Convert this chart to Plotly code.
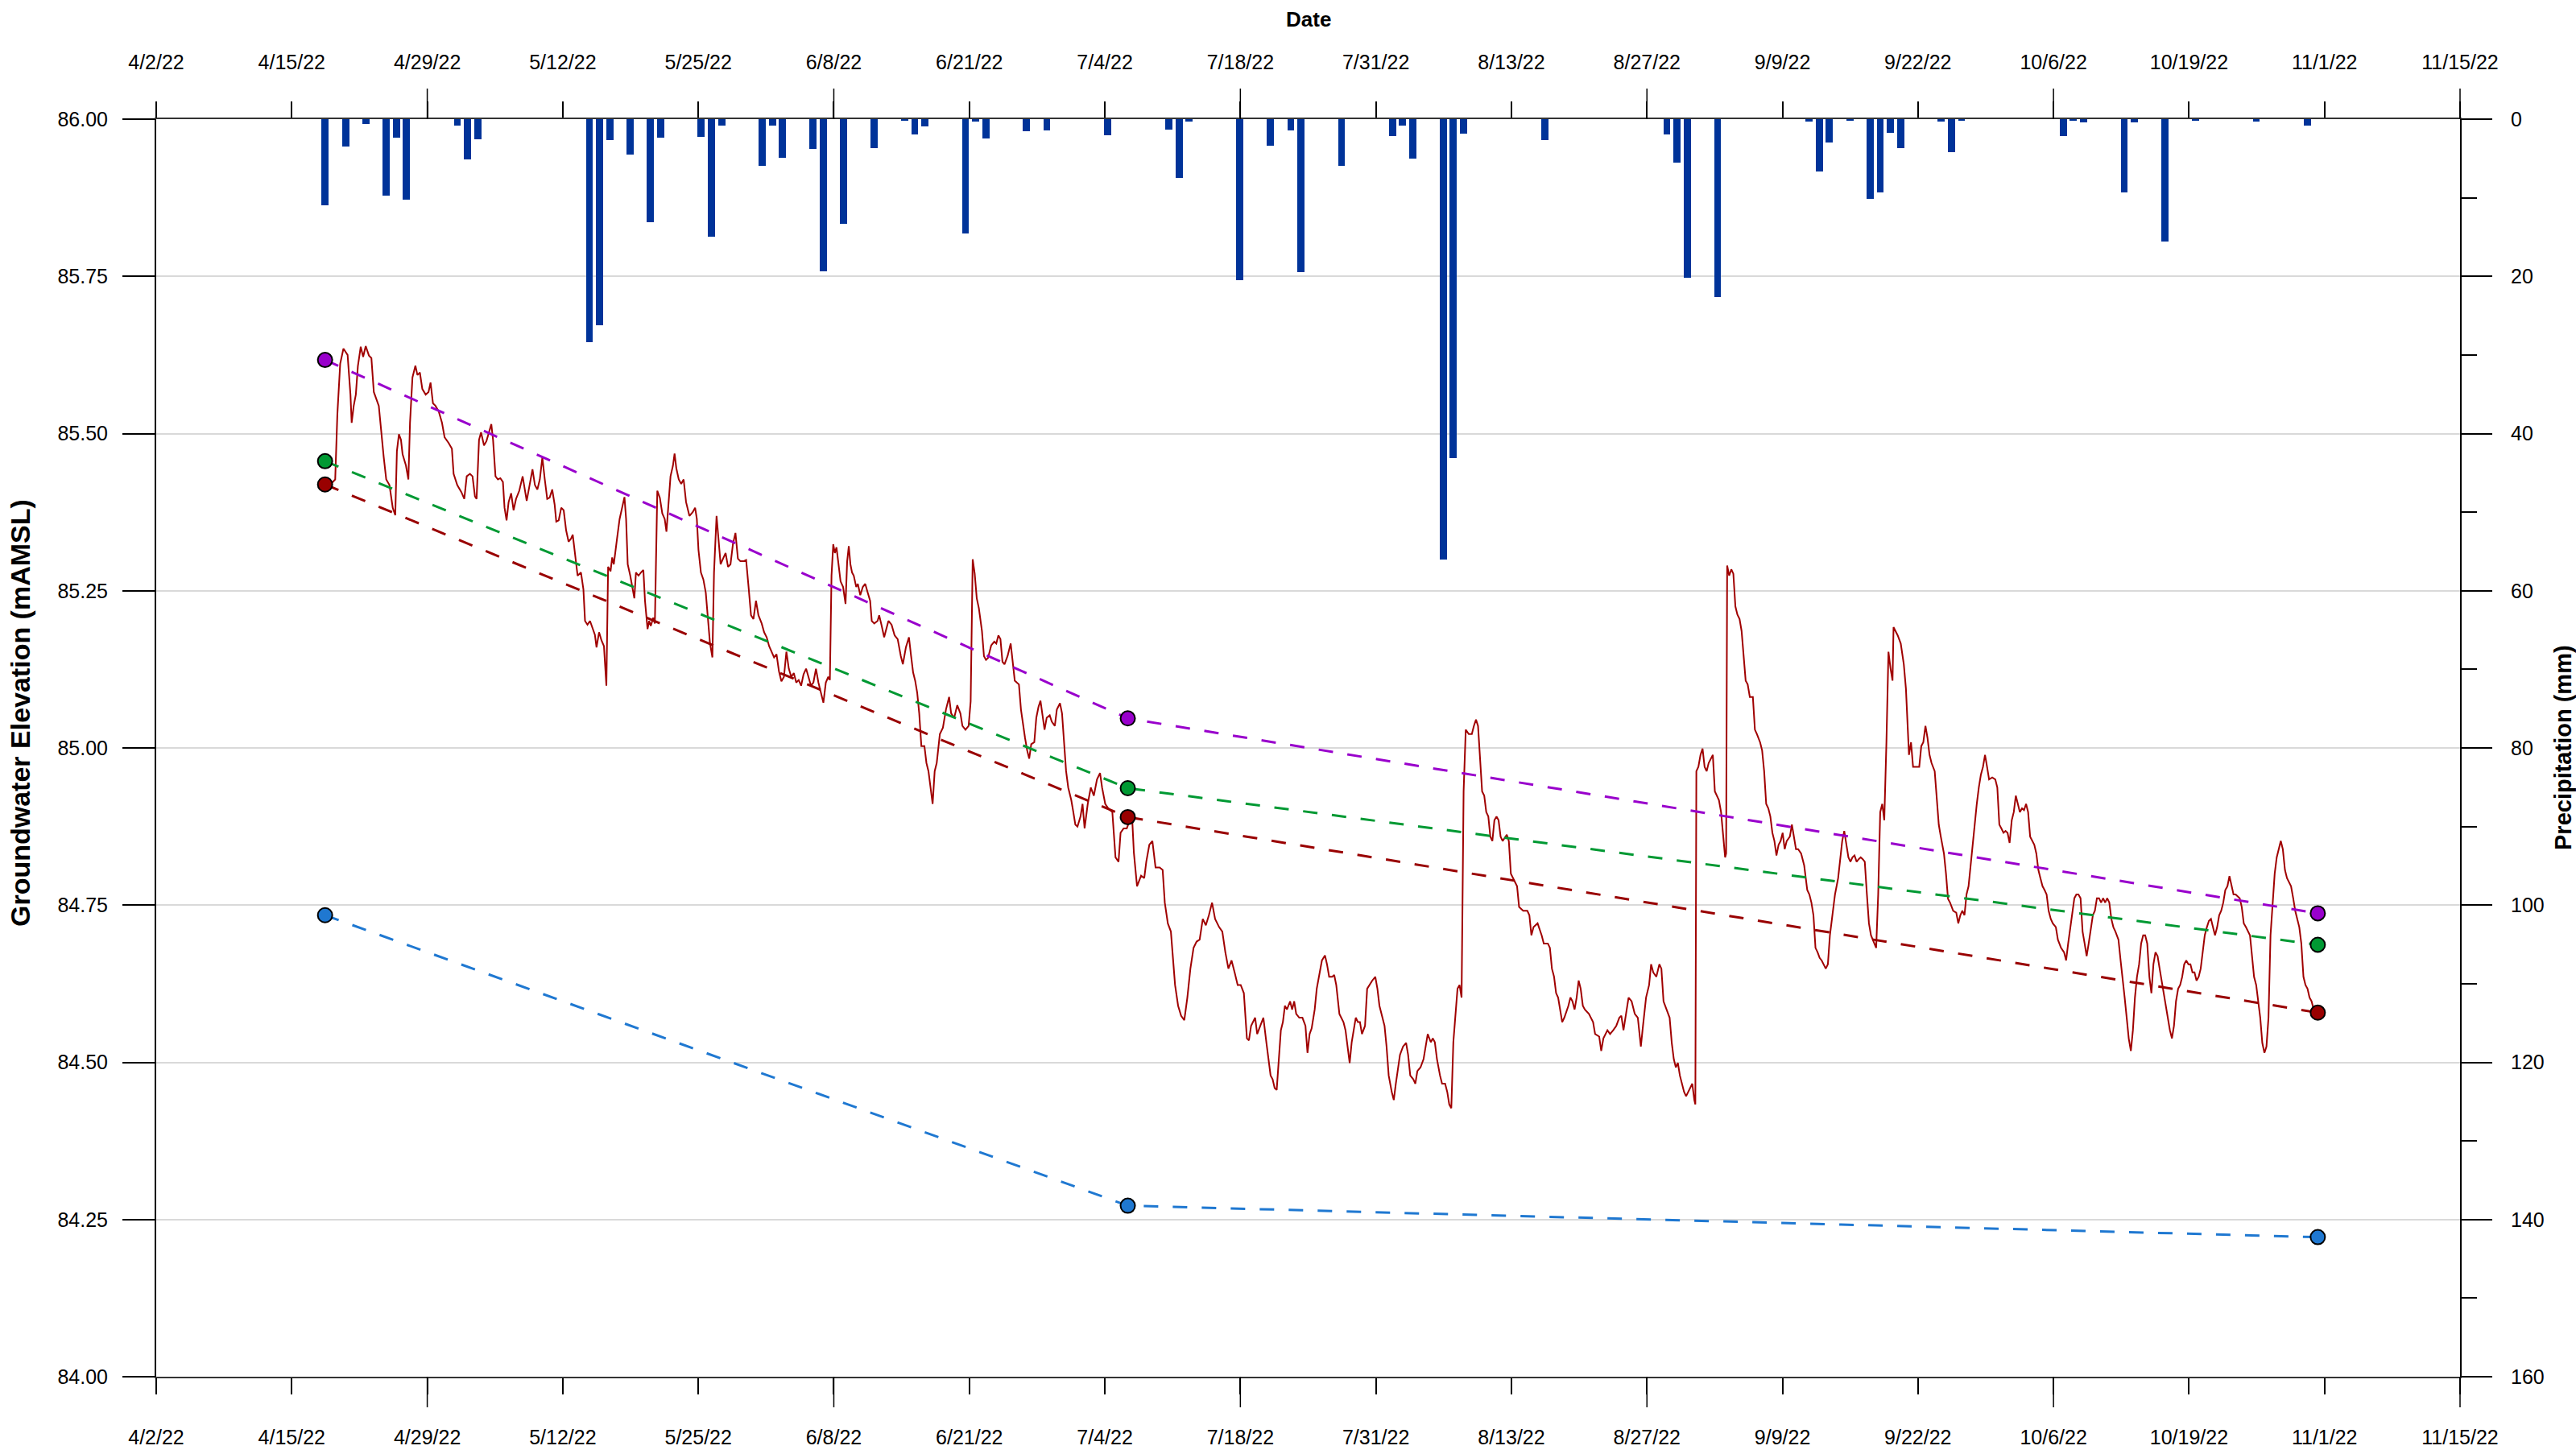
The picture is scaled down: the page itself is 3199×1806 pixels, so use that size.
import pandas as pd
import plotly.graph_objects as go

# ---------------- data ----------------
AXIS_START = pd.Timestamp("2022-04-02")
TICK_STEP_DAYS = 40 / 3
tick_labels = ["4/2/22", "4/15/22", "4/29/22", "5/12/22", "5/25/22", "6/8/22", "6/21/22",
               "7/4/22", "7/18/22", "7/31/22", "8/13/22", "8/27/22", "9/9/22", "9/22/22",
               "10/6/22", "10/19/22", "11/1/22", "11/15/22"]

precip_dates = ["2022-04-18", "2022-04-20", "2022-04-22", "2022-04-24", "2022-04-25", "2022-04-26",
                "2022-05-01", "2022-05-02", "2022-05-03", "2022-05-14", "2022-05-15", "2022-05-16",
                "2022-05-18", "2022-05-20", "2022-05-21", "2022-05-25", "2022-05-26", "2022-05-27",
                "2022-05-31", "2022-06-01", "2022-06-02", "2022-06-05", "2022-06-06", "2022-06-08",
                "2022-06-11", "2022-06-14", "2022-06-15", "2022-06-16", "2022-06-20", "2022-06-21",
                "2022-06-22", "2022-06-26", "2022-06-28", "2022-07-04", "2022-07-10", "2022-07-11",
                "2022-07-12", "2022-07-17", "2022-07-20", "2022-07-22", "2022-07-23", "2022-07-27",
                "2022-08-01", "2022-08-02", "2022-08-03", "2022-08-06", "2022-08-07", "2022-08-08",
                "2022-08-16", "2022-08-28", "2022-08-29", "2022-08-30", "2022-09-02", "2022-09-11",
                "2022-09-12", "2022-09-13", "2022-09-15", "2022-09-17", "2022-09-18", "2022-09-19",
                "2022-09-20", "2022-09-24", "2022-09-25", "2022-09-26", "2022-10-06", "2022-10-07",
                "2022-10-08", "2022-10-12", "2022-10-13", "2022-10-16", "2022-10-19", "2022-10-25",
                "2022-10-30"]
precip_mm = [11.0, 3.45, 0.64, 9.73, 2.33, 10.2,
             0.83, 5.1, 2.53, 28.4, 26.2, 2.62,
             4.54, 13.1, 2.33, 2.25, 15.0, 0.79,
             5.94, 0.8, 4.92, 3.8, 19.4, 13.3,
             3.7, 0.21, 1.9, 0.9, 14.5, 0.32,
             2.5, 1.52, 1.43, 2.0, 1.34, 7.52,
             0.32, 20.5, 3.34, 1.43, 19.5, 5.94,
             2.1, 0.8, 5.03, 56.0, 43.1, 1.82,
             2.7, 1.92, 5.52, 20.2, 22.6, 0.33,
             6.7, 3.02, 0.24, 10.1, 9.35, 1.71,
             3.72, 0.33, 4.15, 0.23, 2.12, 0.23,
             0.44, 9.35, 0.44, 15.6, 0.25, 0.35,
             0.82]

# logger record: (days since 2022-04-02, groundwater elevation mAMSL)
gw_readings = [
    (16.70, 85.419), (17.09, 85.418), (17.61, 85.427), (17.82, 85.530), (18.10, 85.611), (18.42, 85.635),
    (18.83, 85.625), (19.11, 85.562), (19.23, 85.517), (19.43, 85.544), (19.64, 85.562), (19.84, 85.607),
    (20.12, 85.638), (20.36, 85.622), (20.61, 85.639), (20.93, 85.624), (21.17, 85.620), (21.41, 85.566),
    (21.90, 85.544), (22.14, 85.499), (22.38, 85.463), (22.63, 85.427), (22.95, 85.418), (23.27, 85.382),
    (23.52, 85.370), (23.68, 85.472), (23.88, 85.499), (24.08, 85.490), (24.24, 85.467), (24.57, 85.449),
    (24.81, 85.427), (24.97, 85.517), (25.21, 85.589), (25.50, 85.608), (25.70, 85.593), (25.94, 85.597),
    (26.18, 85.571), (26.51, 85.562), (26.79, 85.566), (26.99, 85.581), (27.23, 85.548), (27.48, 85.544),
    (27.80, 85.535), (28.12, 85.517), (28.37, 85.494), (28.77, 85.485), (29.09, 85.476), (29.26, 85.436),
    (29.62, 85.418), (30.02, 85.407), (30.31, 85.396), (30.55, 85.432), (30.87, 85.436), (31.12, 85.432),
    (31.36, 85.400), (31.52, 85.396), (31.76, 85.490), (31.96, 85.502), (32.25, 85.481), (32.49, 85.488),
    (32.73, 85.503), (32.97, 85.515), (33.14, 85.490), (33.38, 85.432), (33.62, 85.427), (33.86, 85.429),
    (34.11, 85.423), (34.27, 85.382), (34.47, 85.362), (34.67, 85.391), (34.92, 85.405), (35.16, 85.378),
    (35.40, 85.396), (35.72, 85.409), (36.05, 85.432), (36.29, 85.409), (36.45, 85.393), (36.69, 85.414),
    (37.02, 85.443), (37.26, 85.418), (37.50, 85.411), (37.74, 85.427), (37.99, 85.462), (38.23, 85.427),
    (38.47, 85.396), (38.71, 85.398), (38.96, 85.411), (39.20, 85.387), (39.36, 85.360), (39.60, 85.362),
    (39.85, 85.382), (40.09, 85.378), (40.33, 85.346), (40.57, 85.328), (40.82, 85.333), (40.98, 85.339),
    (41.22, 85.310), (41.46, 85.274), (41.79, 85.279), (42.03, 85.252), (42.19, 85.202), (42.43, 85.196),
    (42.68, 85.202), (42.84, 85.194), (43.16, 85.180), (43.32, 85.160), (43.57, 85.184), (43.81, 85.171),
    (44.05, 85.162), (44.29, 85.099), (44.46, 85.288), (44.70, 85.281), (44.86, 85.303), (45.02, 85.292),
    (45.18, 85.310), (45.34, 85.333), (45.59, 85.364), (45.83, 85.382), (46.07, 85.399), (46.23, 85.364),
    (46.39, 85.292), (46.64, 85.274), (46.88, 85.252), (47.04, 85.238), (47.20, 85.279), (47.45, 85.274),
    (47.69, 85.279), (47.93, 85.283), (48.09, 85.234), (48.34, 85.189), (48.50, 85.202), (48.66, 85.194),
    (48.90, 85.207), (49.06, 85.198), (49.30, 85.409), (49.55, 85.398), (49.79, 85.373), (50.03, 85.364),
    (50.20, 85.344), (50.44, 85.400), (50.60, 85.432), (50.84, 85.449), (51.00, 85.468), (51.17, 85.445),
    (51.41, 85.427), (51.65, 85.420), (51.89, 85.427), (52.13, 85.391), (52.46, 85.369), (52.78, 85.375),
    (53.02, 85.382), (53.19, 85.364), (53.35, 85.315), (53.59, 85.279), (53.83, 85.268), (54.07, 85.247),
    (54.32, 85.202), (54.48, 85.167), (54.72, 85.144), (54.88, 85.279), (55.13, 85.369), (55.29, 85.337),
    (55.53, 85.292), (55.77, 85.301), (56.02, 85.310), (56.26, 85.288), (56.50, 85.292), (56.74, 85.324),
    (56.99, 85.342), (57.23, 85.301), (57.47, 85.297), (57.79, 85.297), (58.04, 85.299), (58.28, 85.256),
    (58.52, 85.211), (58.76, 85.205), (59.01, 85.234), (59.25, 85.211), (59.57, 85.198), (59.81, 85.184),
    (60.06, 85.176), (60.30, 85.162), (60.54, 85.153), (60.79, 85.144), (61.03, 85.149), (61.27, 85.122),
    (61.51, 85.106), (61.76, 85.113), (62.00, 85.153), (62.24, 85.126), (62.48, 85.113), (62.73, 85.119),
    (62.97, 85.104), (63.21, 85.108), (63.45, 85.099), (63.69, 85.117), (63.94, 85.126), (64.18, 85.113),
    (64.42, 85.099), (64.66, 85.104), (64.91, 85.126), (65.15, 85.104), (65.39, 85.090), (65.64, 85.072),
    (65.88, 85.104), (66.12, 85.113), (66.28, 85.108), (66.44, 85.274), (66.61, 85.324), (66.77, 85.310),
    (66.93, 85.319), (67.09, 85.297), (67.33, 85.265), (67.58, 85.256), (67.82, 85.229), (67.98, 85.297),
    (68.14, 85.321), (68.30, 85.292), (68.46, 85.279), (68.63, 85.274), (68.87, 85.256), (69.03, 85.261),
    (69.27, 85.243), (69.52, 85.256), (69.76, 85.261), (70.00, 85.247), (70.24, 85.234), (70.40, 85.202),
    (70.65, 85.198), (70.97, 85.202), (71.13, 85.211), (71.38, 85.194), (71.62, 85.176),
    (72.04, 85.202), (72.35, 85.196), (72.65, 85.179), (72.95, 85.173), (73.26, 85.146), (73.46, 85.133),
    (73.76, 85.160), (74.06, 85.176), (74.27, 85.146), (74.47, 85.120), (74.67, 85.107), (74.87, 85.088),
    (75.07, 85.055), (75.28, 85.003), (75.58, 85.003), (75.78, 84.976), (75.98, 84.963), (76.19, 84.937),
    (76.39, 84.911), (76.59, 84.963), (76.79, 84.976), (77.10, 85.022), (77.40, 85.032), (77.70, 85.061),
    (78.01, 85.081), (78.21, 85.055), (78.51, 85.048), (78.81, 85.068), (79.12, 85.055), (79.32, 85.035),
    (79.62, 85.029), (79.93, 85.035), (80.13, 85.074), (80.33, 85.300), (80.53, 85.277), (80.73, 85.238),
    (80.94, 85.222), (81.24, 85.186), (81.44, 85.146), (81.64, 85.140), (81.84, 85.143), (82.15, 85.163),
    (82.45, 85.169), (82.65, 85.166), (82.86, 85.179), (83.06, 85.173), (83.26, 85.137), (83.46, 85.133),
    (83.76, 85.146), (84.07, 85.166), (84.27, 85.140), (84.47, 85.107), (84.67, 85.104), (84.88, 85.101),
    (85.08, 85.061), (85.28, 85.035), (85.48, 85.016), (85.69, 84.996), (85.89, 84.983), (86.09, 85.006),
    (86.39, 85.009), (86.59, 85.048), (86.80, 85.065), (87.00, 85.075), (87.20, 85.055), (87.40, 85.029),
    (87.61, 85.048), (87.91, 85.052), (88.11, 85.042), (88.41, 85.035), (88.61, 85.061), (88.92, 85.071),
    (89.12, 85.055), (89.32, 85.003), (89.52, 84.963), (89.73, 84.937), (90.03, 84.917), (90.23, 84.898),
    (90.43, 84.878), (90.64, 84.875), (90.94, 84.891), (91.14, 84.911), (91.34, 84.872), (91.65, 84.911),
    (91.95, 84.937), (92.25, 84.924), (92.56, 84.950), (92.86, 84.960), (93.06, 84.937), (93.37, 84.911),
    (93.67, 84.904), (94.07, 84.898), (94.38, 84.826), (94.68, 84.819), (94.88, 84.865), (95.18, 84.872),
    (95.49, 84.872), (95.79, 84.885), (95.99, 84.898), (96.19, 84.833), (96.50, 84.780), (96.90, 84.797),
    (97.21, 84.793), (97.41, 84.819), (97.71, 84.846), (98.01, 84.852), (98.32, 84.810), (98.72, 84.810),
    (99.02, 84.806), (99.23, 84.754), (99.53, 84.721), (99.83, 84.708), (100.03, 84.669), (100.24, 84.623),
    (100.54, 84.590), (100.84, 84.574), (101.15, 84.567), (101.45, 84.603), (101.75, 84.649), (102.06, 84.682),
    (102.36, 84.692), (102.66, 84.695), (102.97, 84.728), (103.27, 84.718), (103.57, 84.734), (103.88, 84.754),
    (104.18, 84.728), (104.58, 84.715), (104.89, 84.708), (105.19, 84.675), (105.49, 84.649), (105.80, 84.662),
    (106.10, 84.643), (106.40, 84.623), (106.70, 84.623), (107.01, 84.610), (107.31, 84.538), (107.51, 84.535),
    (107.72, 84.558), (107.92, 84.564), (108.12, 84.571), (108.32, 84.545), (108.63, 84.558), (108.93, 84.571),
    (109.23, 84.531), (109.43, 84.505), (109.64, 84.479), (109.84, 84.473), (110.04, 84.459), (110.24, 84.456),
    (110.44, 84.505), (110.65, 84.551), (110.85, 84.564), (111.05, 84.590), (111.25, 84.584), (111.56, 84.597),
    (111.76, 84.584), (111.96, 84.597), (112.16, 84.577), (112.46, 84.571), (112.77, 84.571), (113.07, 84.558),
    (113.27, 84.515), (113.48, 84.545), (113.68, 84.554), (113.98, 84.584), (114.18, 84.617), (114.39, 84.636),
    (114.69, 84.662), (114.99, 84.670), (115.19, 84.656), (115.40, 84.636), (115.70, 84.636), (115.90, 84.639),
    (116.10, 84.623), (116.41, 84.577), (116.61, 84.571), (116.81, 84.564), (117.01, 84.551), (117.21, 84.525),
    (117.42, 84.499), (117.62, 84.532), (117.82, 84.551), (118.02, 84.571), (118.23, 84.564), (118.43, 84.564),
    (118.63, 84.545), (118.93, 84.558), (119.14, 84.617), (119.34, 84.623), (119.64, 84.630), (119.94, 84.636),
    (120.15, 84.617), (120.35, 84.590), (120.65, 84.571), (120.85, 84.558), (121.05, 84.525), (121.26, 84.479),
    (121.56, 84.453), (121.76, 84.440), (121.96, 84.466), (122.17, 84.492), (122.37, 84.512), (122.67, 84.525),
    (122.97, 84.531), (123.17, 84.512), (123.38, 84.479), (123.68, 84.473), (123.88, 84.466), (124.08, 84.486),
    (124.39, 84.492), (124.69, 84.505), (124.89, 84.525), (125.10, 84.545), (125.40, 84.532), (125.60, 84.538),
    (125.80, 84.532), (126.01, 84.505), (126.31, 84.479), (126.51, 84.466), (126.81, 84.466), (127.02, 84.453),
    (127.22, 84.433), (127.42, 84.427), (127.62, 84.532), (127.83, 84.577), (128.03, 84.617), (128.23, 84.623),
    (128.43, 84.603), (128.63, 84.931), (128.84, 85.029), (129.14, 85.022), (129.44, 85.022), (129.64, 85.035),
    (129.85, 85.045), (130.05, 85.035), (130.25, 84.976), (130.45, 84.931), (130.66, 84.924), (130.86, 84.898),
    (131.06, 84.891), (131.26, 84.859), (131.46, 84.852), (131.66, 84.885), (131.87, 84.891), (132.07, 84.885),
    (132.27, 84.859), (132.47, 84.852), (132.88, 84.862), (133.08, 84.852), (133.28, 84.800), (133.48, 84.793),
    (133.89, 84.780), (134.09, 84.747), (134.49, 84.741), (134.90, 84.741), (135.10, 84.734), (135.30, 84.702),
    (135.51, 84.715), (135.91, 84.721), (136.31, 84.702), (136.52, 84.689), (136.92, 84.689), (137.12, 84.682),
    (137.32, 84.649), (137.53, 84.636), (137.73, 84.610), (137.93, 84.603), (138.13, 84.584), (138.33, 84.564),
    (138.54, 84.571), (138.94, 84.590), (139.14, 84.603), (139.34, 84.597), (139.55, 84.584), (139.75, 84.603),
    (139.95, 84.630), (140.15, 84.617), (140.36, 84.590), (140.56, 84.584), (140.96, 84.577), (141.37, 84.564),
    (141.57, 84.545), (141.97, 84.541), (142.17, 84.518), (142.38, 84.538), (142.78, 84.551),
    (143.04, 84.545), (143.35, 84.551), (143.65, 84.558), (143.95, 84.571), (144.15, 84.574), (144.36, 84.551),
    (144.56, 84.571), (144.86, 84.603), (145.16, 84.597), (145.47, 84.577), (145.77, 84.571), (146.07, 84.525),
    (146.28, 84.558), (146.58, 84.603), (146.88, 84.623), (147.08, 84.656), (147.29, 84.643), (147.59, 84.636),
    (147.89, 84.656), (148.09, 84.649), (148.30, 84.597), (148.60, 84.584), (148.90, 84.571), (149.11, 84.531),
    (149.31, 84.505), (149.51, 84.492), (149.71, 84.499), (149.91, 84.479), (150.12, 84.466), (150.32, 84.453),
    (150.52, 84.446), (150.72, 84.453), (150.92, 84.459), (151.13, 84.466), (151.33, 84.440), (151.43, 84.433),
    (151.53, 84.963), (151.73, 84.970), (151.94, 84.989), (152.14, 84.999), (152.34, 84.970), (152.54, 84.963),
    (152.74, 84.976), (152.95, 84.983), (153.15, 84.989), (153.35, 84.931), (153.55, 84.924), (153.75, 84.917),
    (153.96, 84.898), (154.16, 84.865), (154.36, 84.826), (154.46, 84.832), (154.56, 85.290), (154.76, 85.274),
    (154.97, 85.284), (155.17, 85.277), (155.37, 85.225), (155.57, 85.212), (155.78, 85.205), (155.98, 85.186),
    (156.18, 85.146), (156.38, 85.107), (156.58, 85.101), (156.79, 85.081), (157.09, 85.081), (157.29, 85.029),
    (157.49, 85.022), (157.80, 85.009), (158.00, 84.996), (158.20, 84.963), (158.40, 84.911), (158.61, 84.904),
    (158.81, 84.891), (159.01, 84.865), (159.21, 84.852), (159.41, 84.829), (159.62, 84.846), (159.82, 84.852),
    (160.02, 84.865), (160.22, 84.839), (160.42, 84.852), (160.73, 84.859), (160.93, 84.878), (161.13, 84.859),
    (161.33, 84.839), (161.54, 84.839), (161.84, 84.832), (162.14, 84.813), (162.44, 84.774), (162.65, 84.767),
    (162.85, 84.754), (163.05, 84.734), (163.25, 84.682), (163.46, 84.675), (163.66, 84.666), (163.86, 84.662),
    (164.06, 84.656), (164.26, 84.649), (164.47, 84.656), (164.67, 84.702), (164.87, 84.728), (165.17, 84.767),
    (165.48, 84.793), (165.68, 84.826), (165.88, 84.852), (166.08, 84.868), (166.29, 84.846), (166.49, 84.826),
    (166.69, 84.819), (166.89, 84.826), (167.09, 84.829), (167.30, 84.819), (167.50, 84.823), (167.70, 84.826),
    (167.90, 84.823), (168.10, 84.819), (168.31, 84.767), (168.51, 84.721), (168.71, 84.702), (169.01, 84.689),
    (169.22, 84.682), (169.42, 84.767), (169.62, 84.898), (169.82, 84.911), (170.02, 84.885), (170.23, 85.009),
    (170.43, 85.153), (170.63, 85.127), (170.83, 85.107), (170.93, 85.192), (171.14, 85.186), (171.34, 85.179),
    (171.64, 85.166), (171.94, 85.133), (172.15, 85.094), (172.35, 85.029), (172.45, 84.989), (172.65, 85.009),
    (172.85, 84.970), (173.16, 84.970), (173.46, 84.970), (173.66, 85.003), (173.86, 85.009), (174.07, 85.035),
    (174.27, 85.016), (174.47, 84.989), (174.67, 84.976), (174.98, 84.963), (175.18, 84.924), (175.38, 84.878),
    (175.58, 84.859), (175.89, 84.832), (176.09, 84.800), (176.29, 84.760), (176.49, 84.754), (176.80, 84.741),
    (177.10, 84.738), (177.30, 84.721), (177.50, 84.734), (177.70, 84.741), (177.91, 84.734), (178.11, 84.767),
    (178.31, 84.780), (178.51, 84.813), (178.72, 84.846), (178.92, 84.885), (179.12, 84.911), (179.32, 84.937),
    (179.52, 84.957), (179.73, 84.970), (179.93, 84.989), (180.13, 84.970), (180.33, 84.950), (180.64, 84.953),
    (180.94, 84.950), (181.14, 84.937), (181.34, 84.878), (181.54, 84.872), (181.75, 84.865), (181.95, 84.868),
    (182.15, 84.865), (182.35, 84.849), (182.56, 84.885), (182.76, 84.898), (182.96, 84.924), (183.16, 84.911),
    (183.36, 84.898), (183.57, 84.904), (183.77, 84.901), (183.97, 84.911), (184.17, 84.898), (184.37, 84.859),
    (184.58, 84.852), (184.78, 84.846), (184.98, 84.832), (185.18, 84.806), (185.38, 84.793), (185.59, 84.780),
    (185.79, 84.774), (185.99, 84.767), (186.19, 84.741), (186.40, 84.728), (186.60, 84.721), (186.90, 84.715),
    (187.10, 84.695), (187.41, 84.682), (187.71, 84.675), (187.91, 84.662), (188.11, 84.689), (188.32, 84.715),
    (188.52, 84.741), (188.72, 84.761), (188.92, 84.767), (189.12, 84.767), (189.33, 84.761), (189.53, 84.708),
    (189.73, 84.689), (189.93, 84.669), (190.13, 84.689), (190.34, 84.715), (190.54, 84.734), (190.74, 84.741),
    (190.94, 84.761), (191.15, 84.761), (191.35, 84.754), (191.55, 84.761), (191.75, 84.754), (191.95, 84.761),
    (192.16, 84.754), (192.36, 84.728), (192.56, 84.715), (192.76, 84.708), (193.06, 84.695), (193.27, 84.662),
    (193.47, 84.636), (193.67, 84.603), (193.87, 84.571), (194.07, 84.538), (194.28, 84.518), (194.48, 84.551),
    (194.68, 84.603), (194.88, 84.636), (195.09, 84.656), (195.29, 84.689), (195.49, 84.702), (195.69, 84.702),
    (195.89, 84.689), (196.10, 84.636), (196.30, 84.610), (196.50, 84.656), (196.70, 84.675), (196.91, 84.669),
    (197.11, 84.649), (197.31, 84.630), (197.51, 84.610), (197.71, 84.590), (197.92, 84.571), (198.12, 84.551),
    (198.32, 84.538), (198.52, 84.558), (198.72, 84.597), (198.93, 84.617), (199.13, 84.623), (199.33, 84.636),
    (199.53, 84.656), (199.73, 84.662), (199.94, 84.656), (200.14, 84.656), (200.34, 84.643), (200.54, 84.643),
    (200.74, 84.630), (200.95, 84.636), (201.15, 84.649), (201.35, 84.675), (201.55, 84.702), (201.76, 84.715),
    (201.96, 84.725), (202.16, 84.728), (202.36, 84.715), (202.56, 84.702), (202.77, 84.715), (202.97, 84.734),
    (203.17, 84.741), (203.37, 84.754), (203.57, 84.774), (203.78, 84.780), (203.98, 84.796), (204.18, 84.783),
    (204.38, 84.767), (204.59, 84.767), (204.79, 84.764), (204.99, 84.761), (205.19, 84.747), (205.39, 84.721),
    (205.60, 84.715), (205.80, 84.708), (206.00, 84.702), (206.20, 84.669), (206.40, 84.636), (206.61, 84.623),
    (206.81, 84.597), (207.01, 84.571), (207.21, 84.531), (207.42, 84.515), (207.62, 84.525), (207.82, 84.571),
    (208.02, 84.702), (208.22, 84.754), (208.43, 84.800), (208.63, 84.826), (208.83, 84.839), (209.03, 84.852),
    (209.23, 84.839), (209.44, 84.806), (209.64, 84.793), (209.84, 84.787), (210.04, 84.780), (210.25, 84.761),
    (210.45, 84.741), (210.65, 84.728), (210.85, 84.715), (211.05, 84.689), (211.26, 84.636), (211.46, 84.623),
    (211.66, 84.617), (211.86, 84.603), (212.06, 84.597), (212.27, 84.584), (212.67, 84.579),
]

survey_dates = ["2022-04-18 14:40", "2022-07-06 14:10", "2022-10-31 16:05"]
survey_purple = [85.617, 85.047, 84.737]
survey_green = [85.456, 84.936, 84.687]
survey_red = [85.419, 84.890, 84.579]
survey_blue = [84.734, 84.272, 84.222]

# ---------------- figure ----------------
FONT = "Arial, 'Liberation Sans', sans-serif"
tick_x = [AXIS_START + pd.Timedelta(days=k * TICK_STEP_DAYS) for k in range(len(tick_labels))]
x_range = [tick_x[0], tick_x[-1]]

gw_x = [AXIS_START + pd.Timedelta(days=d) for d, _ in gw_readings]
gw_y = [e for _, e in gw_readings]
bar_x = pd.to_datetime(precip_dates) + pd.Timedelta(hours=15)
sx = pd.to_datetime(survey_dates)

fig = go.Figure()

fig.add_trace(go.Scatter(x=gw_x, y=gw_y, mode="lines", line=dict(color="#A00000", width=2),
                         xaxis="x", yaxis="y", showlegend=False, hoverinfo="skip"))

series = [(survey_purple, "#9900CC"), (survey_green, "#009933"),
          (survey_red, "#990000"), (survey_blue, "#1F78D1")]
for vals, col in series:
    fig.add_trace(go.Scatter(x=sx, y=vals, mode="lines",
                             line=dict(color=col, width=3, dash="18px,18px"),
                             xaxis="x", yaxis="y", showlegend=False, hoverinfo="skip"))
for vals, col in series:
    fig.add_trace(go.Scatter(x=sx, y=vals, mode="markers",
                             marker=dict(color=col, size=18, line=dict(color="black", width=2)),
                             xaxis="x", yaxis="y", showlegend=False, hoverinfo="skip"))

fig.add_trace(go.Bar(x=bar_x, y=precip_mm, width=0.7 * 86400000,
                     marker=dict(color="#003399", line=dict(width=0)),
                     xaxis="x2", yaxis="y2", showlegend=False, hoverinfo="skip"))

tick_font = dict(family=FONT, size=25, color="black")
xcommon = dict(type="date", range=x_range, tickmode="array", tickvals=tick_x, ticktext=tick_labels,
               ticks="outside", ticklen=20, tickwidth=1.5, tickcolor="black",
               showline=True, linecolor="#333333", linewidth=2, showgrid=False, zeroline=False,
               tickfont=tick_font, automargin=False)

fig.update_layout(
    width=3199, height=1806, autosize=False,
    margin=dict(l=194, r=144, t=148, b=96, pad=0),
    paper_bgcolor="white", plot_bgcolor="white",
    bargap=0,
    xaxis=dict(**xcommon, side="bottom", ticklabelstandoff=32),
    xaxis2=dict(**xcommon, side="top", overlaying="x", ticklabelstandoff=30),
    yaxis=dict(range=[84, 86], tick0=84, dtick=0.25, tickformat=".2f",
               ticks="outside", ticklen=40, tickwidth=1.5, tickcolor="black",
               showline=True, linecolor="black", linewidth=2,
               showgrid=True, gridcolor="#D9D9D9", gridwidth=1.5, zeroline=False,
               tickfont=tick_font, ticklabelstandoff=13, automargin=False),
    yaxis2=dict(range=[160, 0], tick0=0, dtick=20, side="right", overlaying="y",
                ticks="outside", ticklen=38, tickwidth=1.5, tickcolor="black",
                minor=dict(ticks="outside", ticklen=19, dtick=10, tick0=0, tickwidth=1.5,
                           tickcolor="black", showgrid=False),
                showline=True, linecolor="black", linewidth=2, showgrid=False, zeroline=False,
                tickfont=tick_font, ticklabelstandoff=18, automargin=False),
)

# longer tick marks on every third date tick (top and bottom)
plot_h = 1806 - 148 - 96
plot_w = 3199 - 194 - 144
long_len = 38 / plot_h
n_int = len(tick_labels) - 1
for k in range(2, len(tick_labels), 3):
    xp = k / n_int
    fig.add_shape(type="line", xref="paper", yref="paper", x0=xp, x1=xp, y0=0, y1=-long_len,
                  line=dict(color="black", width=1.5))
    fig.add_shape(type="line", xref="paper", yref="paper", x0=xp, x1=xp, y0=1, y1=1 + long_len,
                  line=dict(color="black", width=1.5))

fig.add_annotation(text="<b>Date</b>", xref="paper", yref="paper", x=0.5, y=1 + 124 / plot_h,
                   showarrow=False, font=dict(family=FONT, size=26, color="black"),
                   xanchor="center", yanchor="middle")
fig.add_annotation(text="<b>Groundwater Elevation (mAMSL)</b>", xref="paper", yref="paper",
                   x=-169 / plot_w, y=1 - 738 / plot_h, textangle=-90, showarrow=False,
                   font=dict(family=FONT, size=34, color="black"),
                   xanchor="center", yanchor="middle")
fig.add_annotation(text="<b>Precipitation (mm)</b>", xref="paper", yref="paper",
                   x=1 + 128 / plot_w, y=0.5, textangle=-90, showarrow=False,
                   font=dict(family=FONT, size=29, color="black"),
                   xanchor="center", yanchor="middle")

fig.write_html("out.html", config={"displayModeBar": False},
               post_script="document.body.style.margin='0px';")
